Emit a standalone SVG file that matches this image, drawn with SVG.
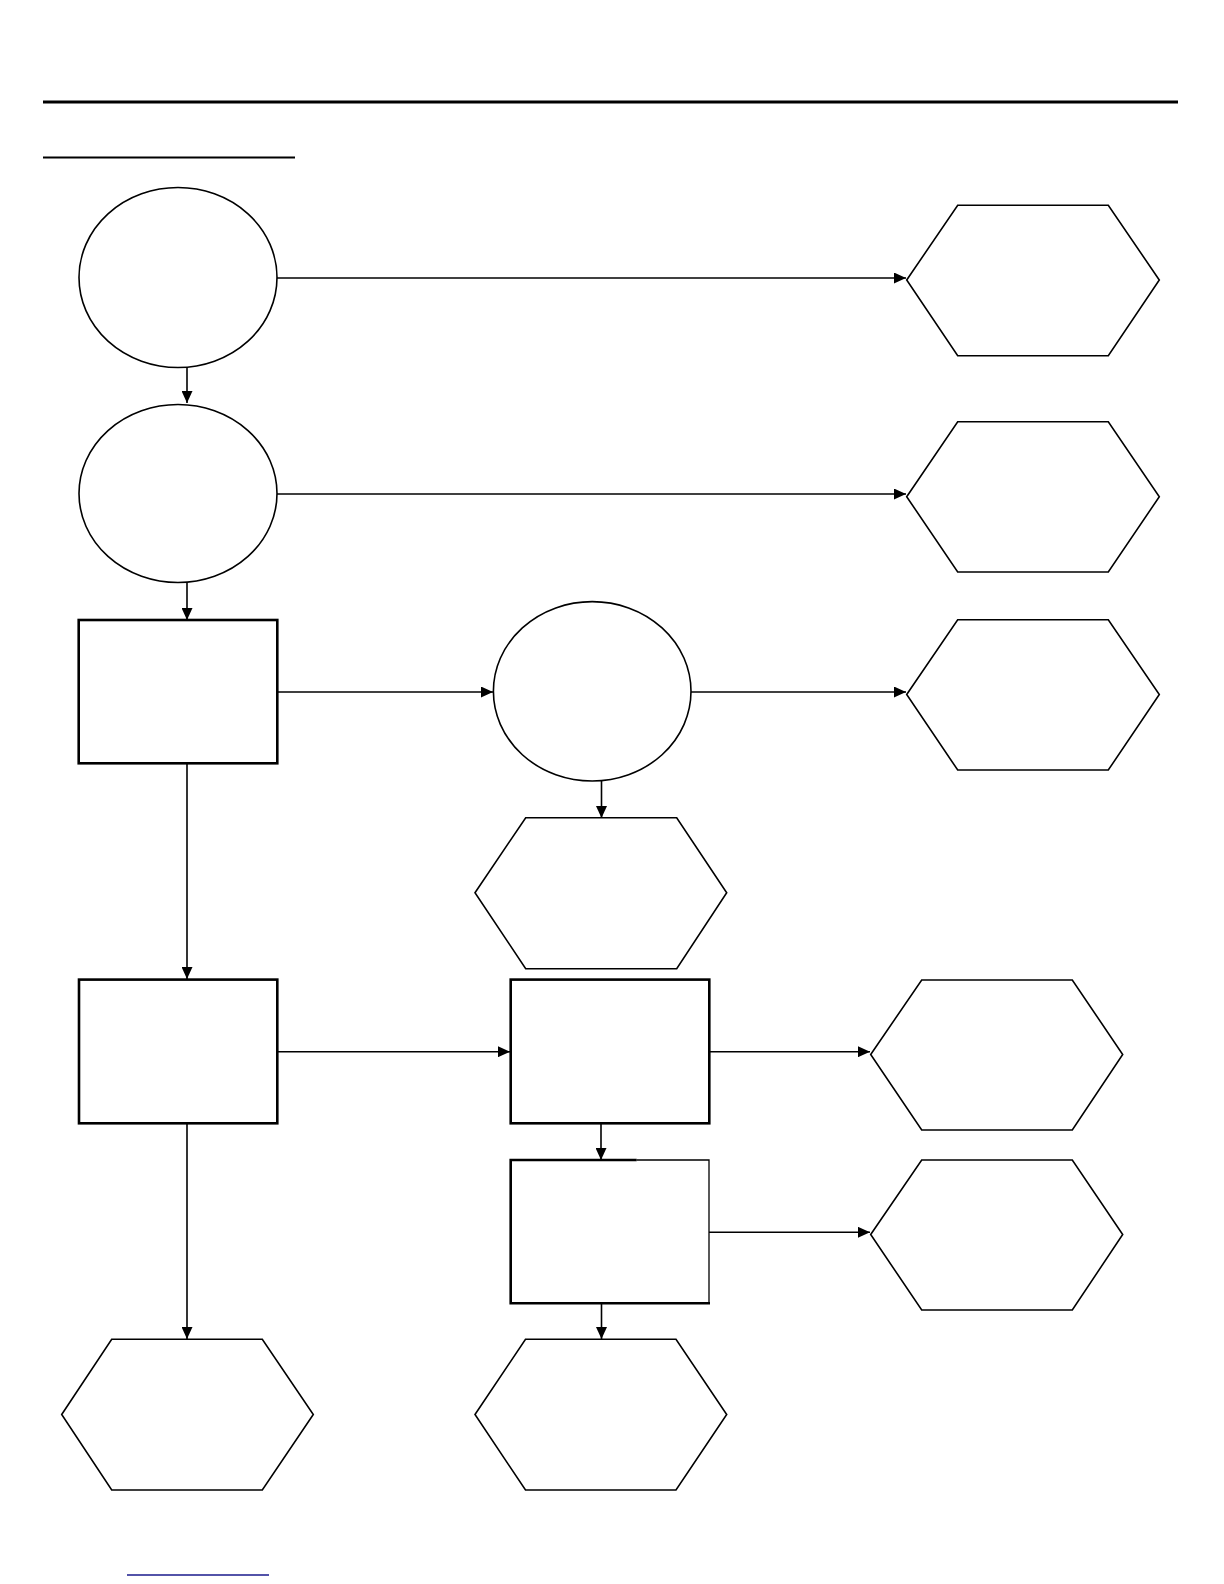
<svg xmlns="http://www.w3.org/2000/svg" width="1224" height="1584" viewBox="0 0 1224 1584">
<style>
.shape{fill:#fff;stroke:#000;stroke-width:1.6}
.box{fill:#fff;stroke:#000;stroke-width:2.6}
.conn{fill:none;stroke:#000;stroke-width:1.6;marker-end:url(#ah)}
</style>
<defs>
<marker id="ah" markerUnits="userSpaceOnUse" markerWidth="12" markerHeight="11" refX="12" refY="5.5" orient="auto">
<path d="M0,0 L12,5.5 L0,11 z" fill="#000"/>
</marker>
</defs>
<rect width="1224" height="1584" fill="#fff"/>
<line x1="43" y1="102" x2="1178" y2="102" stroke="#000" stroke-width="3.2"/>
<line x1="43" y1="157.5" x2="295" y2="157.5" stroke="#000" stroke-width="2.2"/>
<line x1="127" y1="1575" x2="269" y2="1575" stroke="#1a1a8c" stroke-width="1.3"/>

<g id="connectors">
<line class="conn" x1="277" y1="278" x2="906" y2="278"/>
<line class="conn" x1="187" y1="367" x2="187" y2="403"/>
<line class="conn" x1="277" y1="494" x2="906" y2="494"/>
<line class="conn" x1="187" y1="583" x2="187" y2="620"/>
<line class="conn" x1="278" y1="692" x2="493" y2="692"/>
<line class="conn" x1="691" y1="692" x2="906" y2="692"/>
<line class="conn" x1="601.5" y1="781" x2="601.5" y2="818"/>
<line class="conn" x1="187" y1="764" x2="187" y2="979"/>
<line class="conn" x1="278" y1="1051.7" x2="510" y2="1051.7"/>
<line class="conn" x1="710" y1="1051.7" x2="870" y2="1051.7"/>
<line class="conn" x1="601" y1="1124" x2="601" y2="1160"/>
<line class="conn" x1="709" y1="1232.3" x2="870" y2="1232.3"/>
<line class="conn" x1="187" y1="1124" x2="187" y2="1339"/>
<line class="conn" x1="601.5" y1="1304" x2="601.5" y2="1339"/>
</g>

<g id="n1"><ellipse class="shape" cx="178" cy="277.5" rx="99" ry="90"/></g>
<g id="n2"><ellipse class="shape" cx="178" cy="493.5" rx="99" ry="89"/></g>
<g id="n3"><rect class="box" x="78.7" y="620" width="198.6" height="143.3"/></g>
<g id="n4"><ellipse class="shape" cx="592.2" cy="691.3" rx="98.8" ry="89.7"/></g>
<g id="n5"><rect class="box" x="79" y="979.6" width="198.3" height="143.7"/></g>
<g id="n6"><rect class="box" x="510.7" y="979.6" width="198.6" height="143.7"/></g>
<g id="n7">
<rect x="510.7" y="1160" width="198.3" height="143.3" fill="#fff" stroke="none"/>
<path d="M636.7,1160 L510.7,1160 L510.7,1303.3 L710,1303.3" fill="none" stroke="#000" stroke-width="2.6"/>
<path d="M636.7,1160 L709,1160 L709,1303.3" fill="none" stroke="#000" stroke-width="1.3"/>
</g>

<g id="h1"><polygon class="shape" points="906.7,280 957.7,205.3 1108.3,205.3 1159.3,280 1108.3,355.7 957.7,355.7"/></g>
<g id="h2"><polygon class="shape" points="906.7,496.7 957.7,421.7 1108.3,421.7 1159.3,496.7 1108.3,572 957.7,572"/></g>
<g id="h3"><polygon class="shape" points="906.7,694.5 957.7,619.7 1108.3,619.7 1159.3,694.5 1108.3,770 957.7,770"/></g>
<g id="h4"><polygon class="shape" points="475,892.7 525.7,817.7 676.7,817.7 726.7,892.7 676.7,968.7 525.7,968.7"/></g>
<g id="h5"><polygon class="shape" points="870.7,1054.5 921.7,980 1072.3,980 1122.7,1054.5 1072.3,1130 921.7,1130"/></g>
<g id="h6"><polygon class="shape" points="870.7,1234.5 921.7,1160 1072.3,1160 1122.7,1234.5 1072.3,1310 921.7,1310"/></g>
<g id="h7"><polygon class="shape" points="61.7,1414.5 111.7,1339.3 262.3,1339.3 313.3,1414.5 262.3,1490 111.7,1490"/></g>
<g id="h8"><polygon class="shape" points="475,1414.5 525.5,1339.3 676,1339.3 726.7,1414.5 676,1490 525.5,1490"/></g>
</svg>
